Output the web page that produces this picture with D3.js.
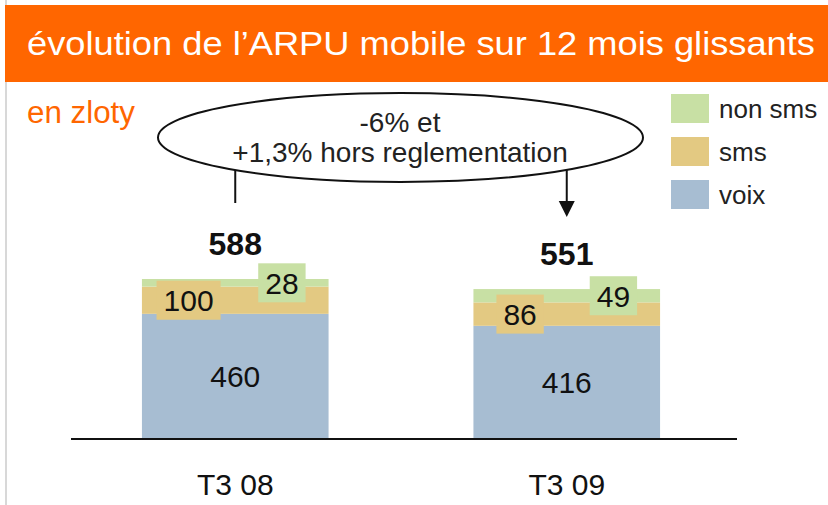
<!DOCTYPE html>
<html>
<head>
<meta charset="utf-8">
<script src="https://cdn.jsdelivr.net/npm/d3@7"></script>
<style>
  html, body { margin: 0; padding: 0; background: #fff; }
  svg { display: block; font-family: "Liberation Sans", Arial, Helvetica, sans-serif; }
</style>
</head>
<body>
<svg id="chart" width="828" height="505"></svg>
<script>
// ---- data ----
const categories = ["T3 08", "T3 09"];
const seriesNames = ["voix", "sms", "non sms"];
const voix = [460, 416];
const sms = [100, 86];
const nonSms = [28, 49];
const totals = [588, 551];
const title = "évolution de l’ARPU mobile sur 12 mois glissants";
const unitLabel = "en zloty";
const noteLines = ["-6% et", "+1,3% hors reglementation"];
const legendItems = ["non sms", "sms", "voix"];

const colors = { "voix": "#a7bdd2", "sms": "#e3c982", "non sms": "#c8e0a4" };

const svg = d3.select("#chart");
const W = 828, H = 505;

// left border
svg.append("line").attr("x1", 6).attr("x2", 6).attr("y1", 0).attr("y2", H)
  .attr("stroke", "#d8d8d8").attr("stroke-width", 2);

// title bar
svg.append("rect").attr("x", 5).attr("y", 5).attr("width", W - 5).attr("height", 77)
  .attr("fill", "#ff6600");
svg.append("text").attr("x", 421).attr("y", 55).attr("text-anchor", "middle")
  .attr("fill", "#fff").attr("font-size", 34)
  .attr("textLength", 788).attr("lengthAdjust", "spacingAndGlyphs")
  .text(title);

svg.append("text").attr("x", 27).attr("y", 123).attr("fill", "#ff6600")
  .attr("font-size", 31).attr("textLength", 108).attr("lengthAdjust", "spacingAndGlyphs")
  .text(unitLabel);

// scales
const x = d3.scaleBand().domain(categories).range([69, 733])
  .paddingInner(0.437).paddingOuter(0.22);
const y = d3.scaleLinear().domain([0, d3.max(totals)]).range([439, 279]);

// stacked data
const rows = categories.map((c, i) => ({ cat: c, "voix": voix[i], "sms": sms[i], "non sms": nonSms[i] }));
const stack = d3.stack().keys(seriesNames)(rows);

const g = svg.append("g");
g.selectAll("g.layer").data(stack).join("g").attr("class", "layer")
  .attr("fill", d => colors[d.key])
  .selectAll("rect").data(d => d).join("rect")
  .attr("x", d => x(d.data.cat))
  .attr("width", x.bandwidth())
  .attr("y", d => y(d[1]))
  .attr("height", d => y(d[0]) - y(d[1]));

// axis baseline
svg.append("line").attr("x1", 71).attr("x2", 737).attr("y1", 439).attr("y2", 439)
  .attr("stroke", "#111").attr("stroke-width", 2);

// category labels
svg.selectAll("text.cat").data(categories).join("text").attr("class", "cat")
  .attr("x", d => x(d) + x.bandwidth() / 2).attr("y", 495)
  .attr("text-anchor", "middle").attr("font-size", 30).attr("fill", "#111")
  .text(d => d);

// value labels
const labels = g.append("g");
stack.forEach(layer => {
  layer.forEach(d => {
    const cx0 = x(d.data.cat);
    const bw = x.bandwidth();
    const cy = (y(d[0]) + y(d[1])) / 2;
    const val = d.data[layer.key];
    let lx, boxed;
    if (layer.key === "voix") { lx = cx0 + bw / 2; boxed = false; }
    else if (layer.key === "sms") { lx = cx0 + bw * 0.25; boxed = true; }
    else { lx = cx0 + bw * 0.75; boxed = true; }
    const lg = labels.append("g");
    const t = lg.append("text").attr("x", lx).attr("y", cy + 11)
      .attr("text-anchor", "middle").attr("font-size", 30).attr("fill", "#111")
      .text(val);
    if (boxed) {
      const tw = t.node().getComputedTextLength();
      lg.insert("rect", "text").attr("x", lx - tw / 2 - 7).attr("y", cy - 19.5)
        .attr("width", tw + 14).attr("height", 39).attr("fill", colors[layer.key]);
    }
  });
});

// totals
svg.selectAll("text.total").data(totals).join("text").attr("class", "total")
  .attr("x", (d, i) => x(categories[i]) + x.bandwidth() / 2)
  .attr("y", (d, i) => y(d) - 24)
  .attr("text-anchor", "middle").attr("font-size", 32).attr("font-weight", "bold")
  .attr("fill", "#111").text(d => d);

// legend
const leg = svg.append("g");
legendItems.forEach((k, i) => {
  const yy = 94 + i * 43;
  leg.append("rect").attr("x", 671).attr("y", yy).attr("width", 38).attr("height", 29)
    .attr("fill", colors[k]);
  leg.append("text").attr("x", 719).attr("y", yy + 24).attr("font-size", 26)
    .attr("fill", "#222").text(k);
});

// ellipse annotation
const c0 = x(categories[0]) + x.bandwidth() / 2;
const c1 = x(categories[1]) + x.bandwidth() / 2;
svg.append("line").attr("x1", c0).attr("x2", c0).attr("y1", 170).attr("y2", 203)
  .attr("stroke", "#111").attr("stroke-width", 2);
svg.append("line").attr("x1", c1).attr("x2", c1).attr("y1", 170).attr("y2", 202)
  .attr("stroke", "#111").attr("stroke-width", 2);
svg.append("path")
  .attr("d", `M${c1 - 8},201 L${c1 + 8},201 L${c1},217 Z`).attr("fill", "#111");

svg.append("ellipse").attr("cx", 400.5).attr("cy", 137.5).attr("rx", 242.5).attr("ry", 44.5)
  .attr("fill", "none").attr("stroke", "#111").attr("stroke-width", 2);
noteLines.forEach((l, i) => {
  svg.append("text").attr("x", 400).attr("y", 132 + i * 30).attr("text-anchor", "middle")
    .attr("font-size", 28).attr("fill", "#222").text(l);
});
</script>
</body>
</html>
